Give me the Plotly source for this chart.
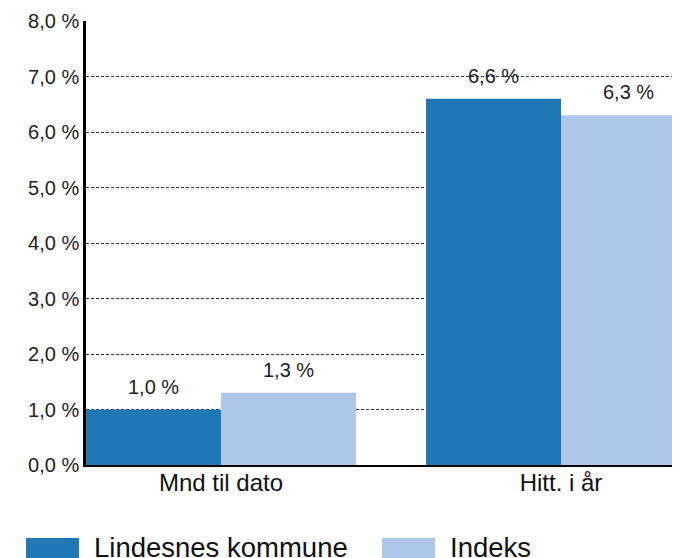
import plotly.graph_objects as go

categories = ["Mnd til dato", "Hitt. i år"]
kommune = [1.0, 6.6]
indeks = [1.3, 6.3]
series_names = ["Lindesnes kommune", "Indeks"]
colors = ["#1f77b4", "#aec7e8"]

# page body has an 8px margin, so the figure is shifted by that amount
OFF = 8
W, H = 680 - OFF, 558 - OFF
L, R, T, B = 86 - OFF, 0, 21 - OFF, 93
plot_w = W - L - R
plot_h = H - T - B


def px_x(x):
    return (x - OFF - L) / plot_w


def px_y(y):
    return (H - B - (y - OFF)) / plot_h


fig = go.Figure()
for name, vals, col in zip(series_names, [kommune, indeks], colors):
    fig.add_bar(x=categories, y=vals, name=name, marker_color=col,
                marker_line_width=0, showlegend=False)

# value labels above bars
for i, vals in enumerate([kommune, indeks]):
    shift = -67.5 if i == 0 else 67.5
    for c, v in zip(categories, vals):
        fig.add_annotation(x=c, y=v, text=f"{v:.1f} %".replace(".", ","),
                           showarrow=False, yanchor="bottom", yshift=10, xshift=shift,
                           font=dict(size=20, color="#222"))

# manual legend
legend_x = [(26, 79, 92), (382, 435, 448)]
for (x0, x1, tx), name, col in zip(legend_x, series_names, colors):
    fig.add_shape(type="rect", xref="paper", yref="paper",
                  x0=px_x(x0), x1=px_x(x1), y0=px_y(538), y1=px_y(590),
                  fillcolor=col, line_width=0)
    fig.add_annotation(xref="paper", yref="paper", x=px_x(tx), y=px_y(530),
                       xanchor="left", yanchor="top", text=name, showarrow=False,
                       font=dict(size=27.5, color="#111"))

fig.update_layout(
    width=W, height=H,
    margin=dict(l=L, r=R, t=T, b=B),
    barmode="group", bargap=0.206, bargroupgap=0,
    plot_bgcolor="white", paper_bgcolor="white",
    font=dict(family="Liberation Sans, Arial, sans-serif", color="#222"),
    separators=", ",
)
fig.update_xaxes(range=[-0.397, 1.35], showline=True, linecolor="black", linewidth=2,
                 showgrid=False, ticks="", ticklabelstandoff=-5,
                 tickfont=dict(size=24, color="#111"))
fig.update_yaxes(range=[0, 8], dtick=1, tickformat=".1f", ticksuffix=" %",
                 showline=True, linecolor="black", linewidth=2.5,
                 showgrid=True, gridcolor="#333", gridwidth=1, griddash="3px,2px",
                 zeroline=False, ticks="", tickfont=dict(size=20, color="#222"))

fig.write_html("out.html")
